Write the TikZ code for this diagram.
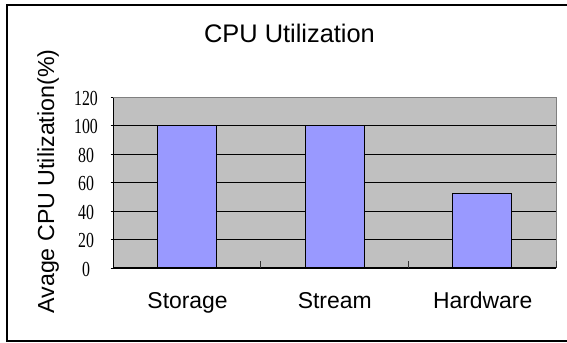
\documentclass[tikz,border=0pt]{standalone}
\usepackage{fontspec}
\setmainfont{Liberation Sans}
\newfontfamily\tickfont{Liberation Serif}
\definecolor{plotbg}{HTML}{C0C0C0}
\definecolor{barfill}{HTML}{9999FF}
\definecolor{plotedge}{HTML}{808080}
\begin{document}
\begin{tikzpicture}[x=1bp,y=-1bp,
  bar/.style={fill=barfill,draw=black,line width=1.4bp},
  gridline/.style={draw=black,line width=1bp},
  ticklab/.style={font=\tickfont\fontsize{21.5}{21.5}\selectfont,inner sep=0pt},
  catlab/.style={font=\fontsize{23}{23}\selectfont,inner sep=0pt,anchor=base},
  ]
  \useasboundingbox (0,0) rectangle (567,342);
  \fill[white] (0,0) rectangle (567,342);
  % outer frame, open on the right
  \draw[line width=2bp] (580,4.5) -- (7,4.5) -- (7,340.5) -- (580,340.5);

  % plot area
  \def\yv#1{268-#1*1.4208}
  \fill[plotbg] (113.3,97.5) rectangle (556,268);
  \foreach \v in {20,40,60,80,100}
    \draw[gridline] (113.3,{\yv{\v}}) -- (556,{\yv{\v}});
  \draw[plotedge,line width=1bp] (113.3,97.5) -- (556,97.5) -- (556,268);

  % bars
  \node[bar,minimum width=59bp,minimum height={100*1.4208bp},inner sep=0pt,anchor=south] (storage) at (187.1,268) {};
  \node[bar,minimum width=59bp,minimum height={100*1.4208bp},inner sep=0pt,anchor=south] (stream) at (334.7,268) {};
  \node[bar,minimum width=59bp,minimum height={52*1.4208bp},inner sep=0pt,anchor=south] (hardware) at (482.2,268) {};

  % axes and ticks
  \draw[black,line width=1.3bp] (113.3,97.5) -- (113.3,268) -- (556,268);
  \foreach \v in {0,20,...,120}
    \draw[black,line width=1bp] (110.5,{\yv{\v}}) -- (113.3,{\yv{\v}});
  \foreach \x in {260.9,408.4,556}
    \draw[black!80,line width=1bp] (\x,268) -- (\x,261);

  % tick labels
  \foreach \v in {0,20,...,120}
    \node[ticklab] (t\v) at (86,{\yv{\v}+1}) {\scalebox{0.74}[1]{\v}};

  % category labels
  \node[catlab] (cs) at (187.6,308) {Storage};
  \node[catlab] (cm) at (334.7,308) {Stream};
  \node[catlab] (ch) at (482.7,308) {Hardware};

  % titles
  \node[font=\fontsize{25.5}{25.5}\selectfont,inner sep=0pt] (title) at (289.5,33.5) {CPU Utilization};
  \node[font=\fontsize{23.3}{23.3}\selectfont,inner sep=0pt,rotate=90] (ylab) at (48,181.5) {Avage CPU Utilization(\%)};
\end{tikzpicture}
\end{document}
